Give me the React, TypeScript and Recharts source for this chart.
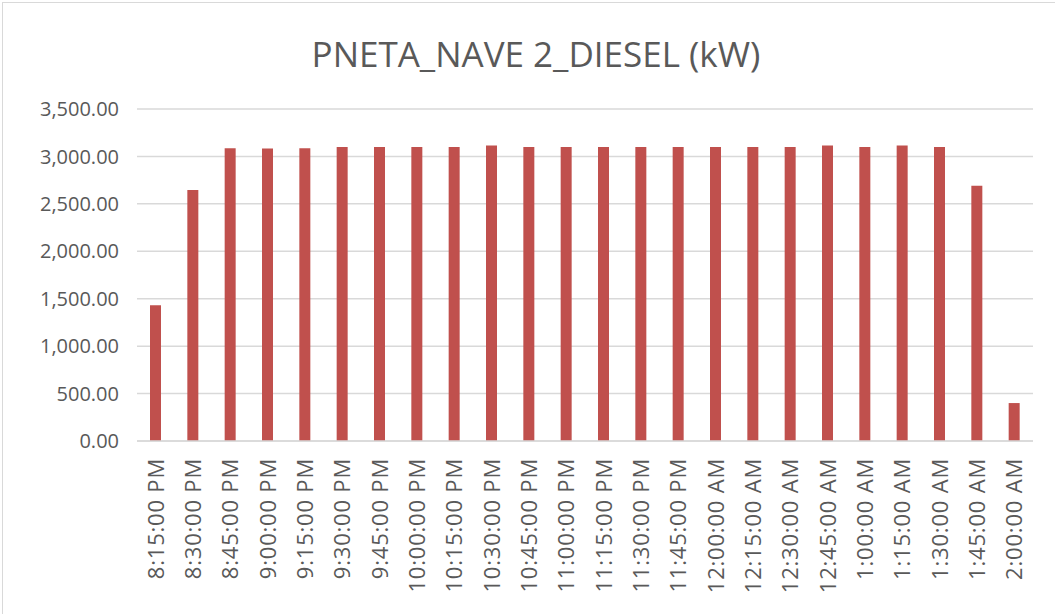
import { BarChart, Bar, XAxis, YAxis, CartesianGrid } from 'recharts'

const times = [
  '8:15:00 PM', '8:30:00 PM', '8:45:00 PM', '9:00:00 PM', '9:15:00 PM', '9:30:00 PM',
  '9:45:00 PM', '10:00:00 PM', '10:15:00 PM', '10:30:00 PM', '10:45:00 PM', '11:00:00 PM',
  '11:15:00 PM', '11:30:00 PM', '11:45:00 PM', '12:00:00 AM', '12:15:00 AM', '12:30:00 AM',
  '12:45:00 AM', '1:00:00 AM', '1:15:00 AM', '1:30:00 AM', '1:45:00 AM', '2:00:00 AM',
]

const pneta = [
  1430, 2645, 3085, 3083, 3085, 3100,
  3100, 3100, 3100, 3115, 3100, 3100,
  3100, 3100, 3100, 3100, 3100, 3100,
  3115, 3100, 3115, 3100, 2690, 400,
]

const yTicks = [0, 500, 1000, 1500, 2000, 2500, 3000, 3500]

const chartData = times.map((t, i) => ({ time: t, value: pneta[i] }))

const FONT = "'Open Sans', sans-serif"
const TEXT = '#595959'

const fmt = (v: number) =>
  v.toLocaleString('en-US', { minimumFractionDigits: 2, maximumFractionDigits: 2 })

const TimeTick = ({ x, y, payload }: any) => (
  <g transform={`translate(${x},${y})`}>
    <text
      transform="rotate(-90)"
      x={-9}
      y={0}
      dy="0.36em"
      textAnchor="end"
      fill={TEXT}
      fontSize={22}
      letterSpacing={0.8}
      fontFamily={FONT}
    >
      {payload.value}
    </text>
  </g>
)

export default function App() {
  return (
    <div style={{ position: 'fixed', left: 0, top: 0, width: 1055, height: 614, background: '#fff' }}>
      <div style={{
        position: 'absolute', left: 2, top: 2, width: 1060, height: 620,
        border: '1px solid #d9d9d9', boxSizing: 'border-box',
      }} />
      <div style={{
        position: 'absolute', left: 0, top: 30, width: 1072, textAlign: 'center',
        fontFamily: FONT, fontSize: 35, color: TEXT, whiteSpace: 'nowrap',
      }}>
        PNETA_NAVE 2_DIESEL (kW)
      </div>
      <BarChart
        width={1055}
        height={614}
        data={chartData}
        margin={{ top: 109, right: 22, bottom: 23, left: 0 }}
        style={{ position: 'absolute', left: 0, top: 0 }}
      >
        <CartesianGrid vertical={false} stroke="#d9d9d9" strokeWidth={1.5} />
        <XAxis
          dataKey="time"
          interval={0}
          height={150}
          tick={<TimeTick />}
          tickLine={false}
          axisLine={{ stroke: '#d9d9d9', strokeWidth: 1.5 }}
        />
        <YAxis
          width={137}
          domain={[0, 3500]}
          ticks={yTicks}
          tickFormatter={fmt}
          tick={{ fill: TEXT, fontSize: 20, fontFamily: FONT }}
          axisLine={false}
          tickLine={false}
          tickMargin={12}
        />
        <Bar dataKey="value" fill="#c0504d" barSize={11} isAnimationActive={false} />
      </BarChart>
    </div>
  )
}
